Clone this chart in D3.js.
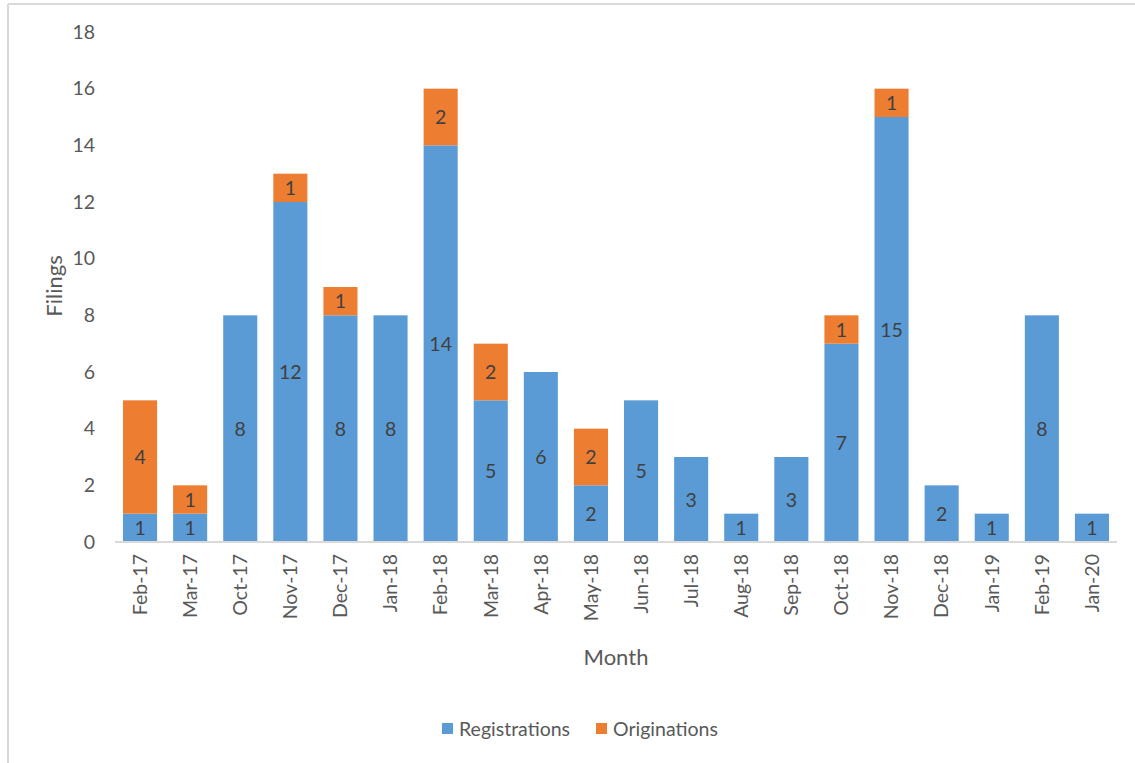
<!DOCTYPE html>
<html><head><meta charset="utf-8">
<script src="https://cdn.jsdelivr.net/npm/d3@7"></script>
<style>body{margin:0;background:#fff;} svg{display:block;}</style>
</head><body>
<svg id="c" width="1135" height="763"></svg>
<script>
const months = ["Feb-17","Mar-17","Oct-17","Nov-17","Dec-17","Jan-18","Feb-18","Mar-18","Apr-18","May-18","Jun-18","Jul-18","Aug-18","Sep-18","Oct-18","Nov-18","Dec-18","Jan-19","Feb-19","Jan-20"];
const registrations = [1,1,8,12,8,8,14,5,6,2,5,3,1,3,7,15,2,1,8,1];
const originations  = [4,1,0,1,1,0,2,2,0,2,0,0,0,0,1,1,0,0,0,0];
const seriesNames = ["Registrations","Originations"];
const seriesColors = ["#5B9BD5","#ED7D31"];
const yTicks = [0,2,4,6,8,10,12,14,16,18];

(function(){
const font = "Lato, 'Open Sans', sans-serif";
const fs = 19.5;
const svg = d3.select("#c");
// outer frame
svg.append("line").attr("x1",8).attr("x2",1135).attr("y1",4).attr("y2",4).attr("stroke","#d9d9d9").attr("stroke-width",2);
svg.append("line").attr("x1",8).attr("x2",8).attr("y1",4).attr("y2",763).attr("stroke","#d9d9d9").attr("stroke-width",2);

const pl=115, pr=1117, pt=32, pb=542;
const x = d3.scaleBand().domain(months).range([pl,pr]).paddingInner(0.32).paddingOuter(0.16);
const y = d3.scaleLinear().domain([0,18]).range([pb,pt]);

const data = months.map((m,i)=>({month:m, Registrations:registrations[i], Originations:originations[i]}));
const stack = d3.stack().keys(seriesNames)(data);

stack.forEach((s,si)=>{
  const g = svg.append("g");
  g.selectAll("rect").data(s).join("rect")
    .attr("x",d=>x(d.data.month)).attr("width",x.bandwidth())
    .attr("y",d=>y(d[1])).attr("height",d=>y(d[0])-y(d[1]))
    .attr("fill",seriesColors[si]);
  g.selectAll("text").data(s.filter(d=>d[1]-d[0]>0)).join("text")
    .attr("x",d=>x(d.data.month)+x.bandwidth()/2)
    .attr("y",d=>(y(d[0])+y(d[1]))/2)
    .attr("dy","0.36em").attr("text-anchor","middle")
    .attr("font-family",font).attr("font-size",fs).attr("fill","#404040")
    .text(d=>d[1]-d[0]);
});

// y axis
const ya = svg.append("g").attr("transform",`translate(${pl},0)`)
  .call(d3.axisLeft(y).tickValues(yTicks).tickSize(0).tickPadding(20));
ya.select(".domain").remove();
ya.selectAll("text").attr("font-family",font).attr("font-size",fs).attr("fill","#595959");

// x axis
const xa = svg.append("g").attr("transform",`translate(0,${pb})`)
  .call(d3.axisBottom(x).tickSize(0).tickPadding(10));
xa.select(".domain").attr("stroke","#d9d9d9").attr("stroke-width",2).attr("d",`M${pl},0H${pr}`);
xa.selectAll("text").attr("font-family",font).attr("font-size",fs).attr("fill","#595959")
  .attr("transform","rotate(-90)").attr("text-anchor","end")
  .attr("x",-12).attr("y",0).attr("dy","0.35em");

// axis titles
svg.append("text").attr("x",(pl+pr)/2).attr("y",665).attr("text-anchor","middle")
  .attr("font-family",font).attr("font-size",22).attr("fill","#595959").text("Month");
svg.append("text").attr("transform",`translate(62,286) rotate(-90)`).attr("text-anchor","middle")
  .attr("font-family",font).attr("font-size",22).attr("fill","#595959").text("Filings");

// legend
const leg = svg.append("g");
const legX = [442,596];
seriesNames.forEach((n,i)=>{
  leg.append("rect").attr("x",legX[i]).attr("y",723).attr("width",11).attr("height",11).attr("fill",seriesColors[i]);
  leg.append("text").attr("x",legX[i]+17).attr("y",729).attr("dy","0.36em")
    .attr("font-family",font).attr("font-size",fs).attr("fill","#595959").text(n);
});
})();
</script>
</body></html>
